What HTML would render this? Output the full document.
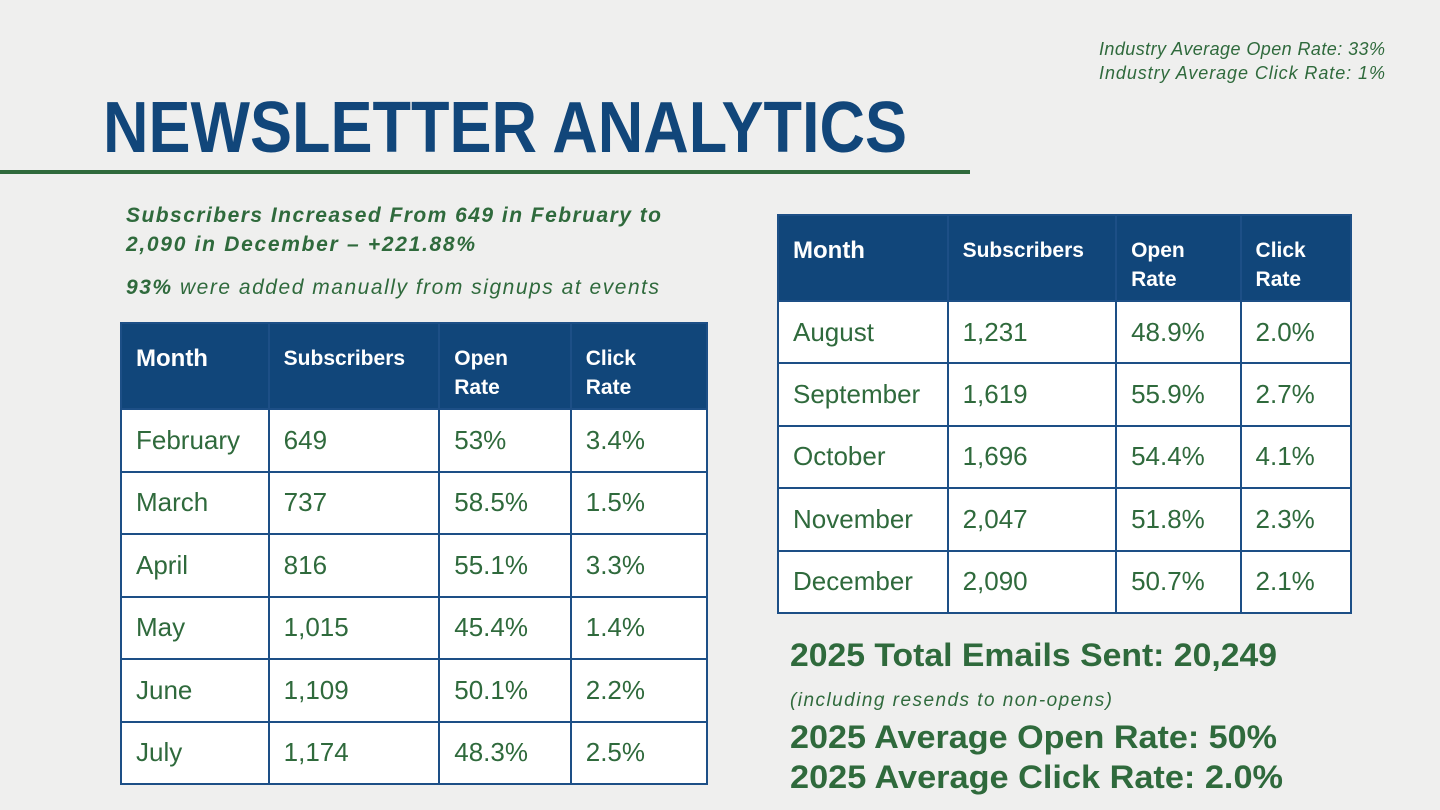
<!DOCTYPE html>
<html><head><meta charset="utf-8"><style>
html,body{margin:0;padding:0}
body{width:1440px;height:810px;background:#efefee;position:relative;overflow:hidden;font-family:"Liberation Sans",sans-serif}
.t{position:absolute;border-collapse:collapse;background:#fff}
.t td,.t th{border:2px solid #1d4f86;padding:0 0 0 14px;text-align:left;vertical-align:middle;color:#2f6a3c;font-size:26px;font-weight:normal}
.t th{background:#11467a;color:#fff;font-weight:bold;font-size:21px;vertical-align:top;padding-top:20px;line-height:29px}
svg{position:absolute;left:0;top:0}
</style></head><body>
<svg width="1440" height="810">
<text x="1099" y="55" font-size="18" font-style="italic" fill="#2f6a3c" textLength="286">Industry Average Open Rate: 33%</text>
<text x="1099" y="79" font-size="18" font-style="italic" fill="#2f6a3c" textLength="286">Industry Average Click Rate: 1%</text>
<text x="103" y="152" font-size="72" font-weight="bold" fill="#11467a" textLength="804" lengthAdjust="spacingAndGlyphs">NEWSLETTER ANALYTICS</text>
<rect x="0" y="170" width="970" height="4" fill="#2f6a3c"/>
<text x="126" y="222" font-size="21" font-weight="bold" font-style="italic" fill="#2f6a3c" textLength="535">Subscribers Increased From 649 in February to</text>
<text x="126" y="251" font-size="21" font-weight="bold" font-style="italic" fill="#2f6a3c" textLength="349">2,090 in December – +221.88%</text>
<text x="126" y="294" font-size="21" font-style="italic" fill="#2f6a3c" textLength="533"><tspan font-weight="bold">93%</tspan> were added manually from signups at events</text>
<text x="790" y="666" font-size="32" font-weight="bold" fill="#2f6a3c" textLength="487" lengthAdjust="spacingAndGlyphs">2025 Total Emails Sent: 20,249</text>
<text x="790" y="706" font-size="19" font-style="italic" fill="#2f6a3c" textLength="322">(including resends to non-opens)</text>
<text x="790" y="748" font-size="32" font-weight="bold" fill="#2f6a3c" textLength="487" lengthAdjust="spacingAndGlyphs">2025 Average Open Rate: 50%</text>
<text x="790" y="788" font-size="32" font-weight="bold" fill="#2f6a3c" textLength="493" lengthAdjust="spacingAndGlyphs">2025 Average Click Rate: 2.0%</text>
</svg>
<table class="t" style="left:120px;top:322px;width:588px;height:463px">
<colgroup><col style="width:148px"><col style="width:171px"><col style="width:132px"><col style="width:137px"></colgroup>
<tr style="height:86px"><th style="font-size:24px">Month</th><th>Subscribers</th><th>Open<br>Rate</th><th>Click<br>Rate</th></tr>
<tr><td>February</td><td>649</td><td>53%</td><td>3.4%</td></tr>
<tr><td>March</td><td>737</td><td>58.5%</td><td>1.5%</td></tr>
<tr><td>April</td><td>816</td><td>55.1%</td><td>3.3%</td></tr>
<tr><td>May</td><td>1,015</td><td>45.4%</td><td>1.4%</td></tr>
<tr><td>June</td><td>1,109</td><td>50.1%</td><td>2.2%</td></tr>
<tr><td>July</td><td>1,174</td><td>48.3%</td><td>2.5%</td></tr>
</table>
<table class="t" style="left:777px;top:214px;width:575px;height:400px">
<colgroup><col style="width:170px"><col style="width:169px"><col style="width:125px"><col style="width:111px"></colgroup>
<tr style="height:86px"><th style="font-size:24px">Month</th><th>Subscribers</th><th>Open<br>Rate</th><th>Click<br>Rate</th></tr>
<tr><td>August</td><td>1,231</td><td>48.9%</td><td>2.0%</td></tr>
<tr><td>September</td><td>1,619</td><td>55.9%</td><td>2.7%</td></tr>
<tr><td>October</td><td>1,696</td><td>54.4%</td><td>4.1%</td></tr>
<tr><td>November</td><td>2,047</td><td>51.8%</td><td>2.3%</td></tr>
<tr><td>December</td><td>2,090</td><td>50.7%</td><td>2.1%</td></tr>
</table>
</body></html>
